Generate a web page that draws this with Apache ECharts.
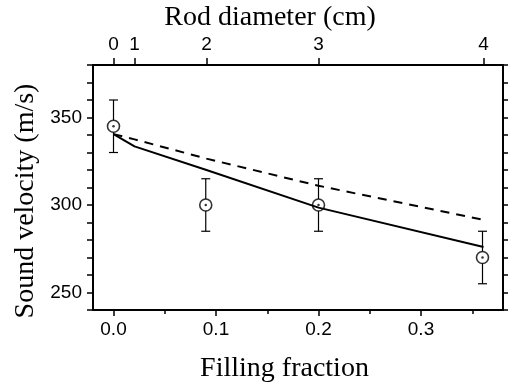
<!DOCTYPE html>
<html>
<head>
<meta charset="utf-8">
<script src="https://cdn.jsdelivr.net/npm/echarts@6/dist/echarts.min.js"></script>
<style>
  html, body { margin: 0; padding: 0; background: #fff; }
  #chart { width: 508px; height: 390px; }
</style>
</head>
<body>
<div id="chart"></div>
<script>
// measured points with error bars
const fillFrac = [0, 0.09, 0.2, 0.36];
const velocity = [345, 300, 300, 270];
const errLow = [330, 285, 285, 255];
const errHigh = [360, 315, 315, 285];

// model curves, evaluated at the rod diameters 0..4 cm
const modelFrac = [0, 0.0205, 0.0907, 0.2, 0.361];
const solidModel = [340.5, 333.5, 320, 298.5, 276];
const dashedModel = [340.5, 337.5, 326.5, 311, 291.5];

// tick labels
const diameterLabels = ['0', '1', '2', '3', '4'];
const bottomTicks = [0, 0.1, 0.2, 0.3];
const bottomMinor = [0.05, 0.15, 0.25, 0.35];
const yLabels = [250, 300, 350];

const chart = echarts.init(document.getElementById('chart'));

const labelFont = { fontFamily: '"Liberation Sans", Arial, sans-serif', fontSize: 19, color: '#000' };
const titleFont = '28px "Liberation Serif", "Times New Roman", serif';
const black = { color: '#000', width: 2 };
const tickStyle = { color: '#000', width: 1.5 };

const option = {
  backgroundColor: '#fff',
  animation: false,
  grid: { left: 93, right: 5, top: 65, bottom: 80 },
  xAxis: [
    {
      type: 'value', position: 'bottom', min: -0.02, max: 0.38,
      axisLine: { onZero: false, lineStyle: black },
      axisTick: { customValues: bottomTicks, length: 6, lineStyle: tickStyle },
      axisLabel: { customValues: bottomTicks, margin: 10, ...labelFont, formatter: v => v.toFixed(1) },
      splitLine: { show: false }
    },
    {
      type: 'value', position: 'top', min: -0.02, max: 0.38,
      axisLine: { onZero: false, lineStyle: black },
      axisTick: { customValues: modelFrac, length: 7, lineStyle: tickStyle },
      axisLabel: {
        customValues: modelFrac, margin: 11, ...labelFont,
        formatter: v => {
          let best = 0;
          modelFrac.forEach((f, i) => { if (Math.abs(f - v) < Math.abs(modelFrac[best] - v)) best = i; });
          return diameterLabels[best];
        }
      },
      splitLine: { show: false }
    },
    {
      type: 'value', position: 'bottom', min: -0.02, max: 0.38,
      axisLine: { show: false, onZero: false },
      axisTick: { customValues: bottomMinor, length: 4, lineStyle: tickStyle },
      axisLabel: { show: false },
      splitLine: { show: false }
    }
  ],
  yAxis: [
    {
      type: 'value', position: 'left', min: 240, max: 380, interval: 10,
      axisLine: { show: true, onZero: false, lineStyle: black },
      axisTick: { show: true, length: 6, lineStyle: tickStyle },
      axisLabel: { customValues: yLabels, margin: 11, ...labelFont },
      splitLine: { show: false }
    },
    {
      type: 'value', position: 'right', min: 240, max: 380, interval: 10,
      axisLine: { show: true, onZero: false, lineStyle: black },
      axisTick: { show: true, length: 6, lineStyle: tickStyle },
      axisLabel: { show: false },
      splitLine: { show: false }
    }
  ],
  series: [
    {
      type: 'line', xAxisIndex: 0, yAxisIndex: 0,
      data: modelFrac.map((f, i) => [f, solidModel[i]]),
      symbol: 'none',
      lineStyle: { color: '#000', width: 2 }
    },
    {
      type: 'line', xAxisIndex: 0, yAxisIndex: 0,
      data: modelFrac.map((f, i) => [f, dashedModel[i]]),
      symbol: 'none',
      lineStyle: { color: '#000', width: 2, type: [9, 7] }
    },
    {
      // error bars, with a gap where the circle sits
      type: 'custom', xAxisIndex: 0, yAxisIndex: 0,
      data: fillFrac.map((f, i) => [f, velocity[i], errLow[i], errHigh[i]]),
      renderItem: (params, api) => {
        const c = api.coord([api.value(0), api.value(1)]);
        const lo = api.coord([api.value(0), api.value(2)]);
        const hi = api.coord([api.value(0), api.value(3)]);
        const r = 6, cap = 4.5;
        const style = { stroke: '#000', lineWidth: 1.2 };
        return {
          type: 'group',
          children: [
            { type: 'line', shape: { x1: c[0], y1: hi[1], x2: c[0], y2: c[1] - r }, style },
            { type: 'line', shape: { x1: c[0], y1: c[1] + r, x2: c[0], y2: lo[1] }, style },
            { type: 'line', shape: { x1: c[0] - cap, y1: hi[1], x2: c[0] + cap, y2: hi[1] }, style },
            { type: 'line', shape: { x1: c[0] - cap, y1: lo[1], x2: c[0] + cap, y2: lo[1] }, style }
          ]
        };
      },
      z: 3
    },
    {
      type: 'scatter', xAxisIndex: 0, yAxisIndex: 0,
      data: fillFrac.map((f, i) => [f, velocity[i]]),
      symbol: 'circle', symbolSize: 12,
      itemStyle: { color: 'rgba(255,255,255,0)', borderColor: '#000', borderWidth: 1.6 },
      z: 4
    },
    {
      type: 'scatter', xAxisIndex: 0, yAxisIndex: 0,
      data: fillFrac.map((f, i) => [f, velocity[i]]),
      symbol: 'circle', symbolSize: 2.5,
      itemStyle: { color: '#000' },
      z: 5
    }
  ],
  graphic: [
    {
      type: 'text', x: 270, y: 18,
      style: { text: 'Rod diameter (cm)', font: titleFont, fill: '#000', align: 'center', verticalAlign: 'middle' }
    },
    {
      type: 'text', x: 284.5, y: 369,
      style: { text: 'Filling fraction', font: titleFont, fill: '#000', align: 'center', verticalAlign: 'middle' }
    },
    {
      type: 'text', x: 26, y: 201, rotation: Math.PI / 2,
      style: { text: 'Sound velocity (m/s)', font: titleFont, fill: '#000', align: 'center', verticalAlign: 'middle' }
    }
  ]
};

chart.setOption(option);
</script>
</body>
</html>
